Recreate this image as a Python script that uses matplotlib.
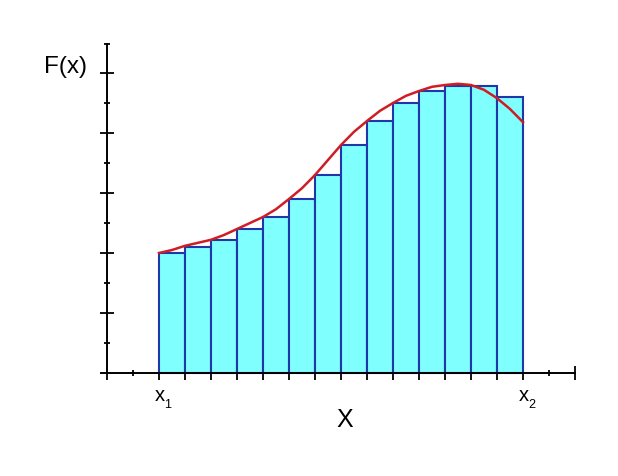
import numpy as np
import matplotlib
matplotlib.use('Agg')
import matplotlib.pyplot as plt

plt.rcParams['font.family'] = ['Liberation Sans', 'DejaVu Sans']

# bar left edges (x units) and heights
bar_left = [2, 3, 4, 5, 6, 7, 8, 9, 10, 11, 12, 13, 14, 15]
bar_height = [2.0, 2.1, 2.22, 2.4, 2.6, 2.9, 3.3, 3.8, 4.2, 4.5, 4.7, 4.78, 4.78, 4.6]

# red curve, sampled every half unit from x1 to x2
curve_x = [2.0, 2.5, 3.0, 3.5, 4.0, 4.5, 5.0, 5.5, 6.0, 6.5, 7.0, 7.5, 8.0, 8.5,
           9.0, 9.5, 10.0, 10.5, 11.0, 11.5, 12.0, 12.5, 13.0, 13.5, 14.0, 14.5,
           15.0, 15.5, 16.0]
curve_y = [2.0, 2.05, 2.12, 2.17, 2.22, 2.3, 2.4, 2.5, 2.6, 2.73, 2.9, 3.08, 3.3,
           3.55, 3.8, 4.02, 4.2, 4.37, 4.5, 4.62, 4.7, 4.77, 4.8, 4.82, 4.8,
           4.72, 4.58, 4.4, 4.18]

x1_pos, x2_pos = 2, 16

fig = plt.figure(figsize=(6.18, 4.77), dpi=100)
# 26 px per x unit, 60 px per y unit; origin at pixel (107, 373)
ax = fig.add_axes([81 / 618, 43 / 477, 520 / 618, 420 / 477])
ax.set_xlim(-1, 19)
ax.set_ylim(-1, 6)

ax.bar(bar_left, bar_height, width=1, align='edge', facecolor='#80ffff',
       edgecolor='#1e38aa', linewidth=1.5, zorder=2)
ax.plot(curve_x, curve_y, color='#d01c24', linewidth=1.8, zorder=3)

for s in ['top', 'right']:
    ax.spines[s].set_visible(False)
ax.spines['left'].set_position(('data', 0))
ax.spines['bottom'].set_position(('data', 0))
ax.spines['left'].set_bounds(0, 5.48)
ax.spines['bottom'].set_bounds(-0.23, 18)
for s in ['left', 'bottom']:
    ax.spines[s].set_linewidth(1.4)
    ax.spines[s].set_zorder(4)

# x ticks
ax.set_xticks([0] + list(range(2, 17)))
ax.set_xticks([1, 17, 18], minor=True)
ax.set_xticklabels([])
ax.tick_params(axis='x', which='major', direction='out', length=5, width=1.3)
ax.tick_params(axis='x', which='minor', direction='inout', length=4, width=1.3)

# y ticks
ax.set_yticks([1, 2, 3, 4, 5])
ax.set_yticks([0.5, 1.5, 2.5, 3.5, 4.5, 5.48], minor=True)
ax.set_yticklabels([])
ax.tick_params(axis='y', which='major', direction='inout', length=9.5, width=1.3)
ax.tick_params(axis='y', which='minor', direction='inout', length=5, width=1.3)

# longer end tick at the right of the x axis
end_tick = ax.xaxis.get_minor_ticks(3)[2]
end_tick.tick1line.set_markersize(9.5)

# labels
for pos, sub in [(x1_pos, '1'), (x2_pos, '2')]:
    ax.annotate('x', xy=(pos, 0), xytext=(0.3, -19.5), textcoords='offset points',
                ha='center', va='baseline', fontsize=14.5)
    ax.annotate(sub, xy=(pos, 0), xytext=(3.8, -24.5), textcoords='offset points',
                ha='left', va='baseline', fontsize=9)

fig.text(66 / 618, 1 - 73 / 477, 'F(x)', ha='center', va='baseline', fontsize=17.5)
fig.text(345 / 618, 1 - 427 / 477, 'X', ha='center', va='baseline', fontsize=18)

fig.savefig('out.png', dpi=100)
